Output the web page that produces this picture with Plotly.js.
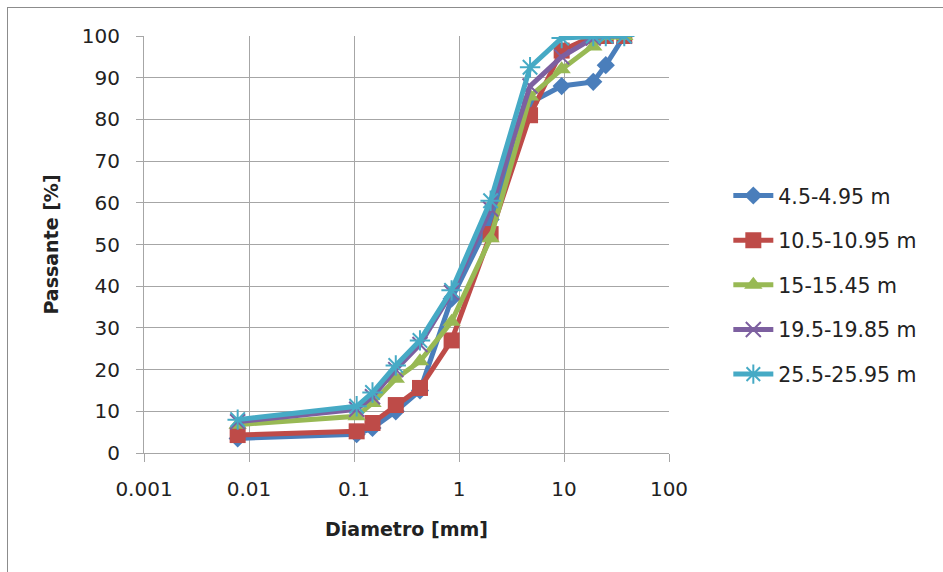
<!DOCTYPE html>
<html>
<head>
<meta charset="utf-8">
<script src="https://cdn.plot.ly/plotly-3.0.1.min.js"></script>
<style>
html,body{margin:0;padding:0;overflow:hidden;background:#fff;}
#frame{position:absolute;left:7px;top:7px;width:1000px;height:1000px;border-left:1.5px solid #8c8c8c;border-top:1.5px solid #8c8c8c;pointer-events:none;}
#chart{position:absolute;left:0;top:0;width:943px;height:572px;}
</style>
</head>
<body>
<div id="chart"></div>
<div id="frame"></div>
<script>
const diam = [0.0078, 0.106, 0.15, 0.25, 0.425, 0.85, 2, 4.75, 9.5, 19, 25, 37.5];
const s1 = [3.5, 4.5, 6, 10, 15, 37, 56, 84, 88, 89, 93, 100];
const s2 = [4.3, 5.2, 7.2, 11.5, 15.6, 27, 52.5, 81, 96.5, 100, 100, 100];
const s3 = [6.8, 8.8, 12, 17.8, 22, 31.5, 51.5, 85.5, 92, 97.5, 100, 100];
const s4 = [7.5, 10.5, 13.5, 20, 26, 38.5, 58.5, 88, 95, 99.5, 100, 100];
const s5 = [8, 11.2, 14.5, 21, 27, 39, 60.5, 92.5, 99.5, 100, 100, 100];
const names = ['4.5-4.95 m', '10.5-10.95 m', '15-15.45 m', '19.5-19.85 m', '25.5-25.95 m'];
const colors = ['#4a7ebb', '#be4b48', '#98b954', '#7d60a0', '#46aac5'];
const symbols = ['diamond', 'square', 'triangle-up', 'x-thin-open', 'asterisk-open'];
const sizes = [14, 16, 16, 15, 17];
const series = [s1, s2, s3, s4, s5];

const traces = series.map((s, i) => ({
  x: diam, y: s, name: names[i], type: 'scatter', mode: 'lines+markers',
  legendgroup: 'g' + i,
  line: {color: colors[i], width: 5},
  marker: {symbol: symbols[i], size: sizes[i], color: colors[i],
           line: {color: colors[i], width: (i >= 3 ? 2 : 0)}}
}));

const gridc = '#a6a6a6';
const fam = '"DejaVu Sans", sans-serif';
const layout = {
  width: 943, height: 572,
  margin: {l: 144, r: 274, t: 36, b: 119},
  paper_bgcolor: '#fff', plot_bgcolor: '#fff',
  font: {family: fam, size: 20, color: '#222'},
  showlegend: true,
  legend: {x: 1.113, xanchor: 'left', y: 0.665, yanchor: 'top',
           font: {family: fam, size: 20.5, color: '#222'},
           traceorder: 'grouped', tracegroupgap: 15, itemwidth: 40, bgcolor: 'rgba(0,0,0,0)'},
  xaxis: {
    type: 'log', range: [-3, 2],
    tickvals: [0.001, 0.01, 0.1, 1, 10, 100],
    ticktext: ['0.001', '0.01', '0.1', '1', '10', '100'],
    showgrid: true, gridcolor: gridc, gridwidth: 1,
    showline: true, linecolor: gridc, linewidth: 1,
    ticks: 'outside', ticklen: 8, tickcolor: gridc, ticklabelstandoff: 10,
    zeroline: false,
    title: {text: '<b>Diametro [mm]</b>', font: {family: fam, size: 19, color: '#222'}, standoff: 22}
  },
  yaxis: {
    range: [0, 100], dtick: 10,
    showgrid: true, gridcolor: gridc, gridwidth: 1,
    showline: true, linecolor: gridc, linewidth: 1,
    ticks: 'outside', ticklen: 7, tickcolor: gridc, ticklabelstandoff: 12,
    zeroline: false,
    title: {text: '<b>Passante [%]</b>', font: {family: fam, size: 19, color: '#222'}, standoff: 18}
  }
};
Plotly.newPlot('chart', traces, layout, {displayModeBar: false, staticPlot: true});
</script>
</body>
</html>
